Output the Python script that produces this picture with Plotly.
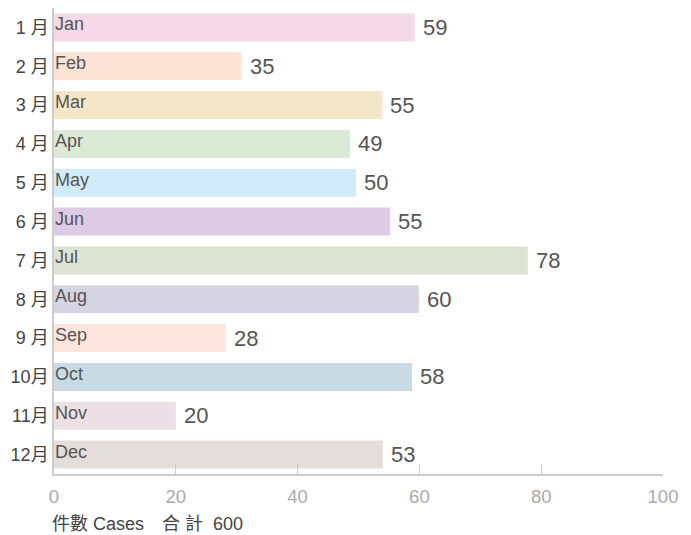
import plotly.graph_objects as go

months_zh = ["1 月", "2 月", "3 月", "4 月", "5 月", "6 月", "7 月", "8 月", "9 月", "10月", "11月", "12月"]
months_en = ["Jan", "Feb", "Mar", "Apr", "May", "Jun", "Jul", "Aug", "Sep", "Oct", "Nov", "Dec"]
# bar lengths as drawn in the reference
bar_lengths = [59.2, 30.8, 53.9, 48.6, 49.6, 55.2, 77.8, 59.9, 28.2, 58.8, 20.0, 54.0]
# value labels as printed in the reference
case_labels = [59, 35, 55, 49, 50, 55, 78, 60, 28, 58, 20, 53]
colors = ["#f5d9e6", "#fde2d6", "#f5e6c8", "#dbe9d7", "#d2ebf8", "#dccbe2",
          "#dde3d3", "#d6d3e3", "#fbe5dd", "#c8dae4", "#ecdfe6", "#e3dddb"]
x_ticks = [0, 20, 40, 60, 80, 100]
total_label = "件數 Cases　合 計  " + str(sum(case_labels))

FONT = "Arial, 'Liberation Sans', 'Noto Sans CJK TC', sans-serif"

fig = go.Figure()
fig.add_trace(go.Bar(
    y=months_zh, x=bar_lengths, orientation="h",
    marker=dict(color=colors, line=dict(width=0)),
    width=0.72, hoverinfo="skip",
))

for m, en, v, lab in zip(months_zh, months_en, bar_lengths, case_labels):
    fig.add_annotation(x=0, y=m, text=en, showarrow=False, xanchor="left",
                       xshift=-1, yshift=3, font=dict(size=18, color="#555555", family=FONT))
    fig.add_annotation(x=v, y=m, text=str(lab), showarrow=False, xanchor="left",
                       xshift=6, yshift=0, font=dict(size=22, color="#555555", family=FONT))

fig.add_annotation(x=0, y=0, xref="paper", yref="paper", text=total_label,
                   showarrow=False, xanchor="left", yanchor="middle", xshift=-4, yshift=-50,
                   font=dict(size=18, color="#444444", family=FONT))

# page body has an 8px margin, so compensate
fig.update_layout(
    width=683, height=527,
    margin=dict(l=46, r=28, t=0, b=61, autoexpand=False),
    paper_bgcolor="white", plot_bgcolor="white",
    showlegend=False,
    font=dict(family=FONT),
    xaxis=dict(range=[0, 100], tickvals=x_ticks, showgrid=False, zeroline=False,
               showline=True, linecolor="#cccccc", linewidth=1.5,
               ticks="inside", ticklen=10, tickcolor="#cccccc", tickwidth=1,
               tickfont=dict(size=18.5, color="#aaaaaa"), ticklabelstandoff=5,
               automargin=False),
    yaxis=dict(autorange="reversed", showgrid=False, zeroline=False,
               showline=True, linecolor="#cccccc", linewidth=1.5,
               ticks="", tickfont=dict(size=18, color="#444444"), ticklabelstandoff=0,
               automargin=False),
)

fig.write_html("out.html")
